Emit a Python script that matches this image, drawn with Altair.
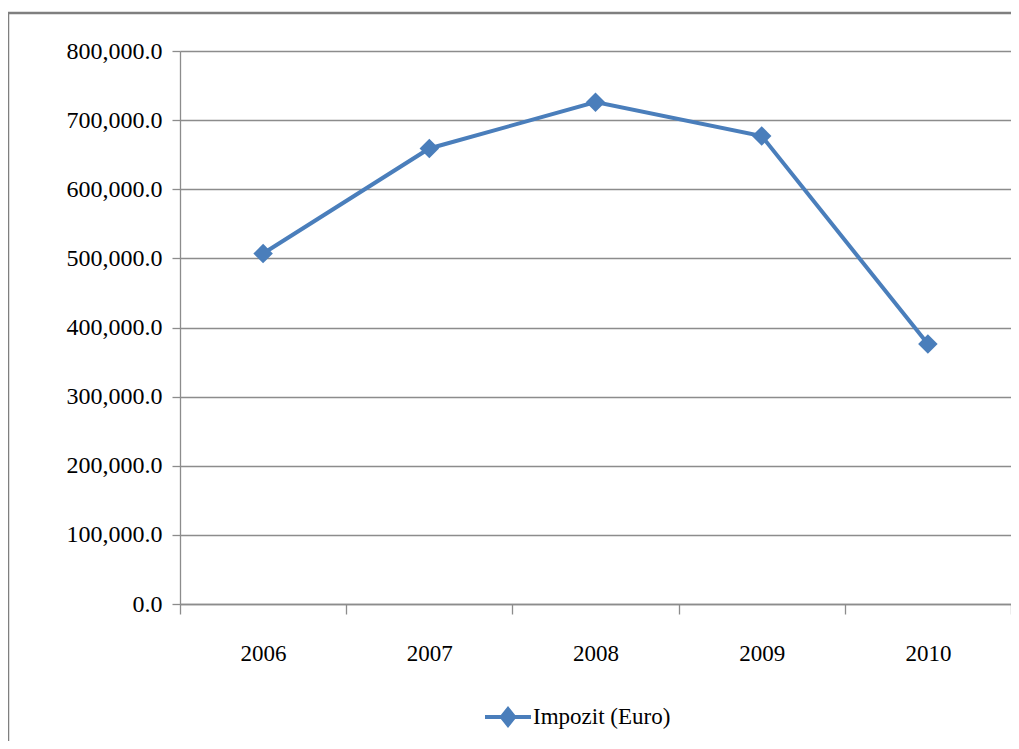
import altair as alt
import pandas as pd

years = ["2006", "2007", "2008", "2009", "2010"]
impozit = [507000, 659000, 726000, 677000, 376000]
series_name = "Impozit (Euro)"
y_ticks = [0, 100000, 200000, 300000, 400000, 500000, 600000, 700000, 800000]

df = pd.DataFrame({"year": years, "value": impozit, "series": [series_name] * len(years)})

BLUE = "#4a7ebb"
GRID = "#8c8c8c"
FONT = "Liberation Serif"

x_enc = alt.X(
    "year:N",
    sort=years,
    scale=alt.Scale(paddingInner=0, paddingOuter=0),
    axis=alt.Axis(
        title=None, labelAngle=0, labelFont=FONT, labelFontSize=23, labelColor="black",
        labelPadding=28, tickBand="extent", tickSize=10, tickColor=GRID, tickWidth=1.3,
        domainColor=GRID, domainWidth=1.3, grid=False,
    ),
)
y_enc = alt.Y(
    "value:Q",
    scale=alt.Scale(domain=[0, 800000], nice=False),
    axis=alt.Axis(
        title=None, values=y_ticks, format=",.1f", labelFont=FONT, labelFontSize=24,
        labelColor="black", labelPadding=10, tickSize=8, tickColor=GRID, tickWidth=1.3,
        domainColor=GRID, domainWidth=1.3, grid=True, gridColor=GRID, gridWidth=1.3,
    ),
)

line = alt.Chart(df).mark_line(color=BLUE, strokeWidth=4).encode(x=x_enc, y=y_enc)

points = alt.Chart(df).mark_point(shape="diamond", filled=True, size=380, opacity=1).encode(
    x=x_enc,
    y=y_enc,
    color=alt.Color(
        "series:N",
        scale=alt.Scale(domain=[series_name], range=[BLUE]),
        legend=alt.Legend(
            title=None, orient="none", legendX=305, legendY=643,
            symbolType="M-1,-0.09H1V0.09H-1Z M0,-0.48L0.38,0L0,0.48L-0.38,0Z",
            symbolSize=2116, symbolOpacity=1, symbolStrokeWidth=0,
            labelFont=FONT, labelFontSize=23, labelColor="black", labelOffset=2,
        ),
    ),
)

frame = alt.Chart(alt.Data(values=[{}])).mark_rule(color="#7f7f7f", strokeWidth=2.5).encode(
    x=alt.value(-172), x2=alt.value(840), y=alt.value(-38)
)
frame_left = alt.Chart(alt.Data(values=[{}])).mark_rule(color="#7f7f7f", strokeWidth=2.5).encode(
    x=alt.value(-172), y=alt.value(-38), y2=alt.value(700)
)

chart = alt.layer(frame, frame_left, line, points).properties(
    width=831,
    height=553,
    autosize=alt.AutoSizeParams(type="none"),
    padding={"left": 172, "top": 43, "right": 0, "bottom": 137},
    background="white",
).configure_view(stroke=None)

chart.save("out.html", embed_options={"renderer": "svg", "actions": False})
